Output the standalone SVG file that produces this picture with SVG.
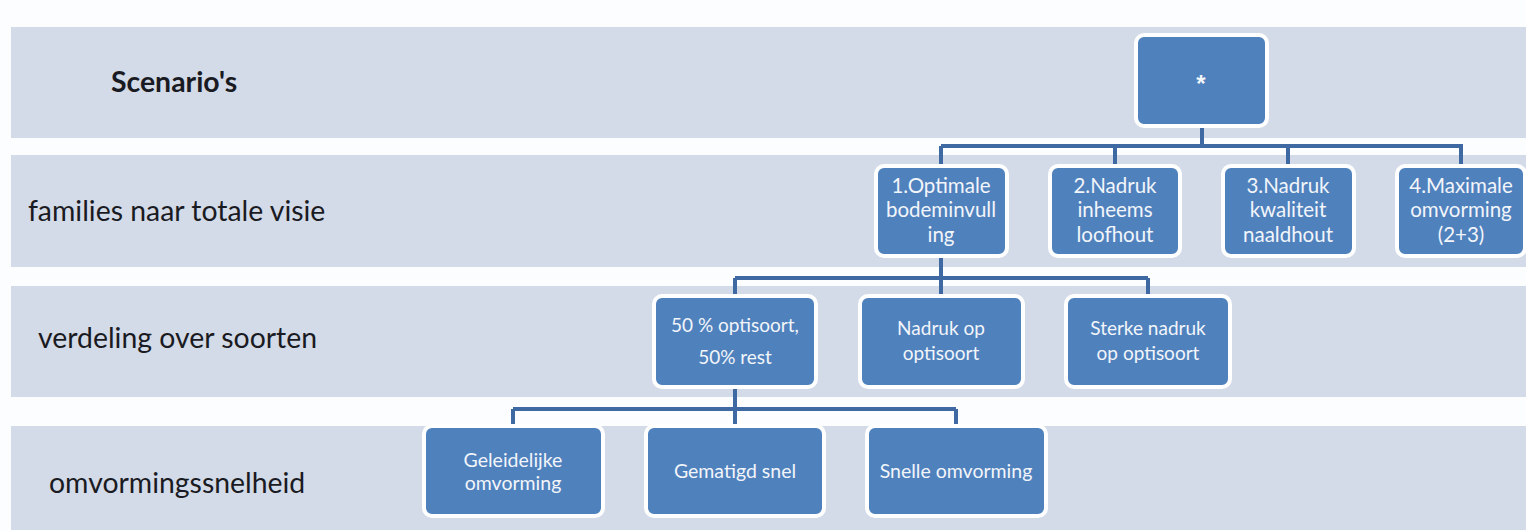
<svg xmlns="http://www.w3.org/2000/svg" width="1526" height="530" viewBox="0 0 1526 530">
<style>
.band{fill:#D3DAE8}
.box{fill:#4F81BD;stroke:#FFFFFF;stroke-width:4}
.nt{font-family:Lato,"Liberation Sans",sans-serif;font-size:20.5px;fill:#F2F5FA;text-anchor:middle}
.n3{font-size:19px}
.n4{font-size:19.5px}
.star{font-family:"Liberation Sans",sans-serif;font-size:24px;font-weight:bold}
.lbl{font-family:Lato,"Liberation Sans",sans-serif;font-size:28.4px;fill:#1A1A22}
.conn{fill:none;stroke:#3F69A2;stroke-width:4}
</style>
<rect x="0" y="0" width="1526" height="530" fill="#FCFDFE"/>
<g id="bands">
<rect class="band" x="11" y="27" width="1515" height="111"/>
<rect class="band" x="11" y="155" width="1515" height="112"/>
<rect class="band" x="11" y="286" width="1515" height="111"/>
<rect class="band" x="11" y="426" width="1515" height="104"/>
</g>
<g id="row-labels">
<text class="lbl" x="111" y="92" font-weight="bold">Scenario's</text>
<text class="lbl" x="28" y="221">families naar totale visie</text>
<text class="lbl" x="38" y="348">verdeling over soorten</text>
<text class="lbl" x="49" y="493">omvormingssnelheid</text>
</g>
<g id="connectors">
<path class="conn" d="M1202,128 V146 M941,146 H1463 M941,146 V165 M1115,146 V165 M1288,146 V165 M1461,146 V165"/>
<path class="conn" d="M941,257 V278 M735,278 H1148 M735,278 V295 M941,278 V295 M1148,278 V295"/>
<path class="conn" d="M735,388 V409 M513,409 H956 M513,409 V425 M735,409 V425 M956,409 V425"/>
</g>
<g id="node-root">
<rect class="box" x="1136" y="35" width="131" height="91" rx="8"/>
<text class="nt star" x="1201" y="92">*</text>
</g>
<g id="node-1">
<rect class="box" x="876" y="166" width="131" height="90" rx="8"/>
<text class="nt" x="941" y="193">1.Optimale</text>
<text class="nt" x="941" y="217">bodeminvull</text>
<text class="nt" x="941" y="242">ing</text>
</g>
<g id="node-2">
<rect class="box" x="1050" y="166" width="130" height="90" rx="8"/>
<text class="nt" x="1115" y="193">2.Nadruk</text>
<text class="nt" x="1115" y="217">inheems</text>
<text class="nt" x="1115" y="242">loofhout</text>
</g>
<g id="node-3">
<rect class="box" x="1223" y="166" width="131" height="90" rx="8"/>
<text class="nt" x="1288" y="193">3.Nadruk</text>
<text class="nt" x="1288" y="217">kwaliteit</text>
<text class="nt" x="1288" y="242">naaldhout</text>
</g>
<g id="node-4">
<rect class="box" x="1397" y="166" width="128" height="90" rx="8"/>
<text class="nt" x="1461" y="193">4.Maximale</text>
<text class="nt" x="1461" y="217">omvorming</text>
<text class="nt" x="1461" y="242">(2+3)</text>
</g>
<g id="node-1a">
<rect class="box" x="654" y="296" width="162" height="91" rx="8"/>
<text class="nt n3" x="735" y="332">50 % optisoort,</text>
<text class="nt n3" x="735" y="364">50% rest</text>
</g>
<g id="node-1b">
<rect class="box" x="860" y="296" width="163" height="91" rx="8"/>
<text class="nt n3" x="941" y="335">Nadruk op</text>
<text class="nt n3" x="941" y="360">optisoort</text>
</g>
<g id="node-1c">
<rect class="box" x="1066" y="296" width="164" height="91" rx="8"/>
<text class="nt n3" x="1148" y="335">Sterke nadruk</text>
<text class="nt n3" x="1148" y="360">op optisoort</text>
</g>
<g id="node-1a-i">
<rect class="box" x="424" y="426" width="179" height="90" rx="8"/>
<text class="nt n4" x="513" y="467">Geleidelijke</text>
<text class="nt n4" x="513" y="490">omvorming</text>
</g>
<g id="node-1a-ii">
<rect class="box" x="646" y="426" width="178" height="90" rx="8"/>
<text class="nt n4" x="735" y="478">Gematigd snel</text>
</g>
<g id="node-1a-iii">
<rect class="box" x="867" y="426" width="179" height="90" rx="8"/>
<text class="nt n4" x="956" y="478">Snelle omvorming</text>
</g>
</svg>
